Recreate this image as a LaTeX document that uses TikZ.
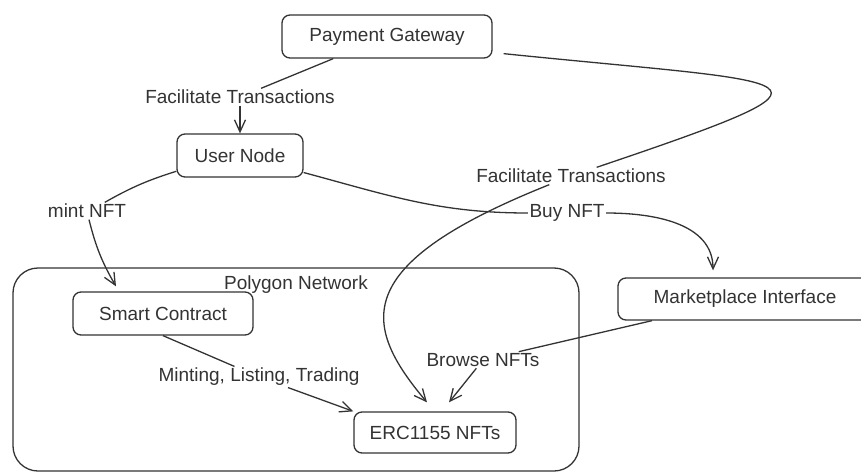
\documentclass[tikz,border=0pt]{standalone}
\usepackage{fontspec}
\setmainfont{Liberation Sans}
\usetikzlibrary{arrows.meta}
\definecolor{ink}{HTML}{333333}
\begin{document}
\begin{tikzpicture}[x=1pt, y=1pt, font=\fontsize{19}{22}\selectfont,
    box/.style={draw=ink, line width=1.3pt, rounded corners=8pt, text=ink, inner sep=0pt},
    lbl/.style={fill=white, text=ink, inner sep=1.5pt},
    link/.style={draw=ink, line width=1.3pt},
    flow/.style={link, -{Straight Barb[length=12pt,width=11pt]}}]
    \useasboundingbox (0,0) rectangle (861,475);

    % Polygon network container
    \node[box, rounded corners=25pt, minimum width=566pt, minimum height=203pt] (poly) at (296,105.5) {};
    \node[text=ink] (polylbl) at (296,190) {Polygon Network};

    % Main boxes
    \node[box, minimum width=210pt, minimum height=43pt] (pg) at (387,438.5) {Payment Gateway};
    \node[box, minimum width=126pt, minimum height=43pt] (user) at (240,319.5) {User Node};
    \node[box, minimum width=180pt, minimum height=43pt] (sc) at (163,161.5) {Smart Contract};
    \node[box, minimum width=162pt, minimum height=41pt] (erc) at (435,42.5) {ERC1155 NFTs};
    \node[box, minimum width=254pt, minimum height=42pt] (mkt) at (745,176) {Marketplace Interface};

    % Edge labels
    \node[lbl] (ft1) at (240,378) {Facilitate Transactions};
    \node[lbl] (ft2) at (571,299) {Facilitate Transactions};
    \node[lbl] (buy) at (567,262) {Buy NFT};
    \node[lbl] (mint) at (87,264) {mint NFT};
    \node[lbl] (mlt) at (259,98) {Minting, Listing, Trading};
    \node[lbl] (browse) at (483,115) {Browse NFTs};

    % Payment gateway to user
    \draw[link] (pg) -- (ft1);
    \draw[flow] (ft1) -- (user);

    % Payment gateway to the NFTs
    \draw[link] ([shift={(11,5)}]pg.south east) .. controls (810,390) and (870,400) .. (ft2);
    \draw[flow] (ft2) .. controls (348,210) and (362,150) .. ([xshift=-8pt,yshift=9pt]erc.north);

    % User to marketplace
    \draw[link] (user) to[out=-15, in=180] (buy);
    \draw[flow] (buy) to[out=0, in=90] ([xshift=-32pt,yshift=7pt]mkt.north);

    % User to smart contract
    \draw[link] (user) to[bend right=6] (mint);
    \draw[flow] (mint) to[bend right=8] ([xshift=-47pt,yshift=5pt]sc.north);

    % Smart contract to NFTs
    \draw[link] (sc.south) -- (mlt);
    \draw[flow] (mlt) -- (erc.north west);

    % Marketplace to NFTs
    \draw[link] (mkt) -- (browse);
    \draw[flow] (browse) -- ([xshift=14pt,yshift=9pt]erc.north);
\end{tikzpicture}
\end{document}
